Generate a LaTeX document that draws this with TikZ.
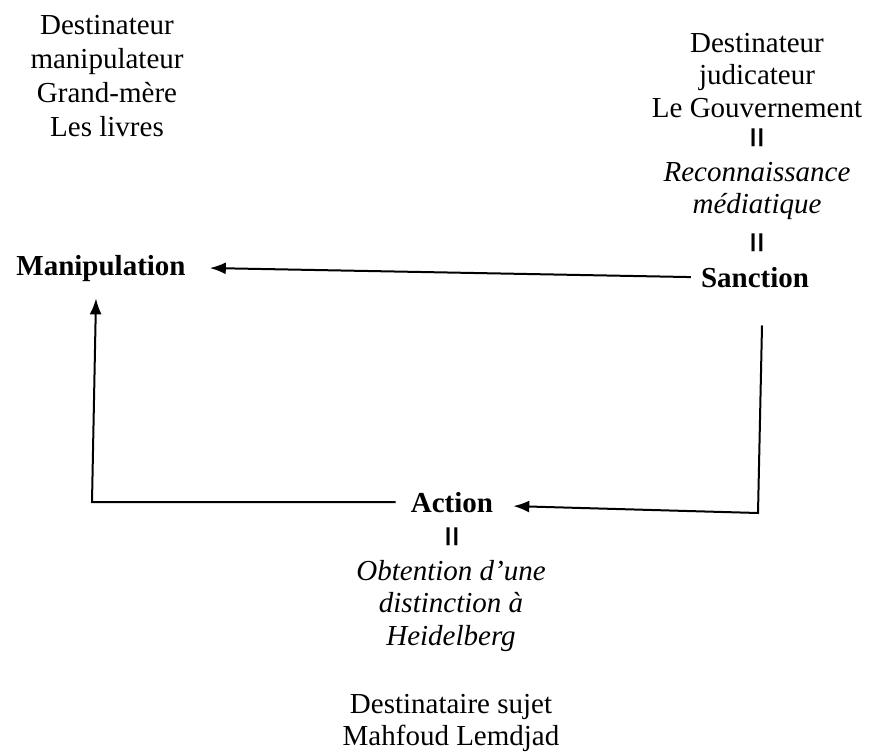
\documentclass[tikz,border=0pt]{standalone}
\usepackage{fontspec}
\setmainfont{Liberation Serif}
\usepackage{graphicx}
\usetikzlibrary{arrows.meta}
\newcommand{\dbar}{\textbf{\scalebox{1.5}[0.68]{|\kern-1.2pt|}}}

\begin{document}
\begin{tikzpicture}[x=1pt,y=-1pt,
    txt/.style={align=center,inner sep=0pt,font=\fontsize{29}{34}\selectfont},
    role/.style={txt,font=\fontsize{29}{32.5}\selectfont\itshape},
    phase/.style={txt,font=\fontsize{29}{33}\selectfont\bfseries},
    arr/.style={line width=2pt,-{Latex[length=16pt,width=12pt]}},
    link/.style={line width=2pt}]
    \useasboundingbox (0,0) rectangle (869,754);
    % actants
    \node[txt,anchor=north] (manipdest) at (107,15) {Destinateur\\manipulateur\\Grand-mère\\Les livres};
    \node[txt,anchor=north,font=\fontsize{29}{32.5}\selectfont] (judge) at (757,33) {Destinateur\\judicateur\\Le Gouvernement};
    \node[txt] (bar1) at (757,138) {\dbar};
    \node[role,anchor=north] (recog) at (757,162) {Reconnaissance\\médiatique};
    \node[txt] (bar2) at (757,243) {\dbar};
    % phases of the schema
    \node[phase,anchor=base] (sanc) at (755,287) {Sanction};
    \node[phase,anchor=base] (manip) at (101,275) {Manipulation};
    \node[phase,anchor=base] (act) at (452,512) {Action};
    \node[txt] (bar3) at (452,537) {\dbar};
    \node[role,anchor=north] (obt) at (451,560) {Obtention d'une\\distinction à\\Heidelberg};
    \node[txt,anchor=north,font=\fontsize{29}{32}\selectfont] (subj) at (451,694) {Destinataire sujet\\Mahfoud Lemdjad};
    % corners of the loop
    \coordinate (cornerR) at (758,513);
    \coordinate (cornerL) at (92,502);
    \draw[arr] ([xshift=-10pt]sanc.west) -- ([xshift=24pt]manip.east);
    \draw[arr] ([xshift=7pt,yshift=-38pt]sanc.south) -- (cornerR) -- ([xshift=20pt,yshift=-4pt]act.east);
    \draw[arr] ([xshift=-15pt]act.west) -- (cornerL) -- ([xshift=-5pt,yshift=-17pt]manip.south);
\end{tikzpicture}
\end{document}
